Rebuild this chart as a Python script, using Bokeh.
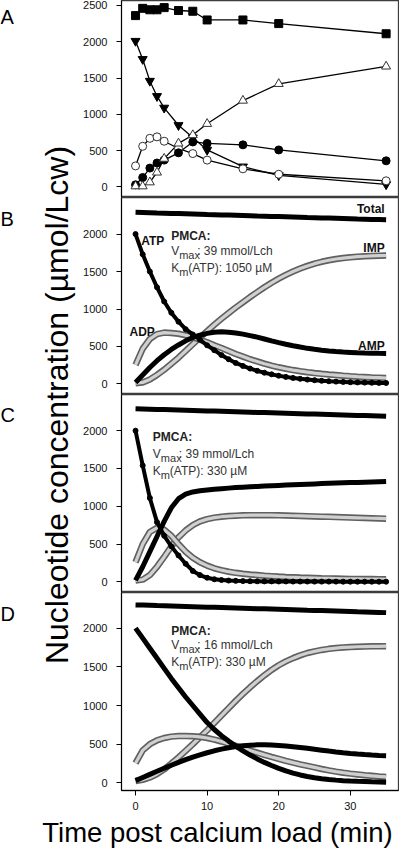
from bokeh.plotting import figure
from bokeh.layouts import row, column
from bokeh.models import Range1d, FixedTicker
from bokeh.core.properties import value
from bokeh.embed import file_html
from bokeh.resources import INLINE

FONT = "Liberation Sans"

# ---------------- Panel A: measured data ----------------
time_a = [0, 1, 2, 3, 4, 6, 8, 10, 15, 20, 35]
a_total = [2360, 2460, 2440, 2440, 2470, 2430, 2420, 2300, 2300, 2250, 2110]
a_atp = [2010, 1760, 1460, 1250, 1090, 850, 680, 510, 280, 160, 35]
a_adp = [290, 560, 670, 690, 630, 530, 460, 370, 250, 175, 85]
a_amp = [30, 130, 260, 330, 370, 470, 620, 600, 580, 510, 360]
a_imp = [10, 10, 65, 200, 390, 600, 715, 870, 1190, 1420, 1660]

# ---------------- Panels B-D: simulations ----------------
time_sim = list(range(36))

b_total = [2290, 2287, 2284, 2281, 2279, 2276, 2273, 2270, 2267, 2264, 2261, 2259, 2256, 2253, 2250, 2247,
           2244, 2241, 2239, 2236, 2233, 2230, 2227, 2224, 2221, 2219, 2216, 2213, 2210, 2207, 2204, 2201,
           2199, 2196, 2193, 2190]
b_atp = [2000, 1730, 1500, 1290, 1100, 950, 830, 730, 660, 590, 515, 450, 385, 330, 280, 240, 205, 175,
         150, 128, 110, 94, 80, 68, 58, 50, 42, 36, 31, 27, 23, 20, 18, 16, 14, 13]
b_adp = [255, 470, 600, 665, 685, 680, 670, 650, 625, 590, 555, 515, 480, 440, 400, 365, 330, 300, 270,
         245, 222, 203, 185, 170, 157, 145, 135, 126, 118, 110, 103, 97, 92, 87, 83, 79]
b_amp = [20, 120, 220, 310, 390, 460, 520, 575, 620, 650, 675, 690, 695, 690, 680, 665, 645, 625, 600,
         575, 552, 530, 510, 492, 475, 462, 450, 440, 432, 425, 420, 415, 412, 410, 408, 407]
b_imp = [10, 20, 60, 120, 190, 270, 350, 440, 530, 620, 705, 790, 870, 945, 1020, 1090, 1160, 1225, 1290,
         1350, 1405, 1455, 1500, 1540, 1575, 1605, 1630, 1650, 1667, 1680, 1690, 1698, 1704, 1708, 1711, 1714]

c_total = [2290, 2287, 2284, 2281, 2279, 2276, 2273, 2270, 2267, 2264, 2261, 2259, 2256, 2253, 2250, 2247,
           2244, 2241, 2239, 2236, 2233, 2230, 2227, 2224, 2221, 2219, 2216, 2213, 2210, 2207, 2204, 2201,
           2199, 2196, 2193, 2190]
c_atp = [2000, 1540, 1110, 790, 610, 470, 350, 240, 145, 90, 55, 35, 25, 18, 14, 11, 9, 8, 7, 7, 6, 6, 5,
         5, 5, 4, 4, 4, 4, 3, 3, 3, 3, 3, 3, 3]
c_adp = [260, 500, 660, 715, 690, 610, 500, 400, 320, 260, 215, 180, 155, 135, 120, 108, 98, 90, 82, 76,
         70, 65, 61, 57, 54, 51, 48, 46, 44, 42, 40, 39, 38, 37, 36, 35]
c_amp = [20, 200, 400, 600, 800, 980, 1100, 1160, 1190, 1205, 1215, 1224, 1232, 1240, 1247, 1253, 1258,
         1263, 1268, 1272, 1276, 1280, 1284, 1288, 1292, 1296, 1300, 1304, 1307, 1310, 1313, 1316, 1319,
         1322, 1325, 1328]
c_imp = [20, 30, 90, 200, 330, 470, 590, 680, 750, 800, 830, 850, 862, 870, 876, 880, 882, 883, 883, 882,
         880, 878, 875, 872, 869, 866, 863, 860, 857, 854, 851, 848, 845, 842, 839, 836]

d_total = [2300, 2297, 2294, 2291, 2289, 2286, 2283, 2280, 2277, 2274, 2271, 2269, 2266, 2263, 2260, 2257,
           2254, 2251, 2249, 2246, 2243, 2240, 2237, 2234, 2231, 2229, 2226, 2223, 2220, 2217, 2214, 2211,
           2209, 2206, 2203, 2200]
d_atp = [2000, 1870, 1740, 1610, 1480, 1350, 1230, 1110, 1000, 890, 780, 690, 610, 540, 475, 415, 360, 310,
         265, 225, 188, 155, 127, 103, 83, 67, 54, 44, 36, 29, 24, 20, 17, 14, 12, 10]
d_adp = [255, 420, 500, 550, 580, 598, 605, 606, 603, 595, 580, 560, 535, 507, 478, 448, 418, 390, 362,
         335, 310, 285, 262, 240, 220, 200, 180, 162, 146, 132, 120, 110, 100, 92, 84, 77]
d_amp = [30, 70, 110, 150, 190, 228, 265, 300, 333, 363, 390, 415, 437, 455, 470, 481, 488, 492, 492, 489,
         484, 477, 468, 458, 447, 435, 423, 411, 400, 390, 381, 373, 366, 360, 355, 352]
d_imp = [25, 40, 70, 115, 175, 250, 330, 415, 500, 590, 680, 775, 870, 965, 1060, 1150, 1235, 1315, 1390,
         1460, 1520, 1570, 1612, 1648, 1678, 1700, 1718, 1732, 1742, 1750, 1755, 1759, 1762, 1764, 1765, 1766]

ticks_a = [0, 500, 1000, 1500, 2000, 2500]
ticks_bcd = [0, 500, 1000, 1500, 2000]
ticks_x = [0, 10, 20, 30]

X_RANGE = (-1.96, 36.73)
PANEL_H = [197, 197, 198, 198]
BOTTOM_BORDER = 24


def make_panel(yr, frame_h, yticks, bottom=False):
    p = figure(frame_width=277, frame_height=frame_h,
               x_range=Range1d(*X_RANGE), y_range=Range1d(*yr),
               output_backend="svg", toolbar_location=None,
               min_border_left=39, min_border_right=1, min_border_top=0,
               min_border_bottom=(BOTTOM_BORDER if bottom else 0))
    p.grid.visible = False
    p.outline_line_color = "#3c3c3c"
    p.outline_line_width = 1.3
    ya = p.yaxis[0]
    ya.ticker = FixedTicker(ticks=yticks)
    ya.major_label_text_font = FONT
    ya.major_label_text_font_size = "11px"
    ya.major_label_text_color = "#111111"
    ya.major_tick_out = 5
    ya.major_tick_in = 0
    ya.minor_tick_out = 0
    ya.minor_tick_in = 0
    ya.major_label_standoff = 9
    ya.axis_line_color = "black"
    xa = p.xaxis[0]
    if bottom:
        xa.ticker = FixedTicker(ticks=ticks_x)
        xa.major_label_text_font = FONT
        xa.major_label_text_font_size = "11px"
        xa.major_label_text_color = "#111111"
        xa.major_tick_out = 5
        xa.major_tick_in = 0
        xa.minor_tick_out = 0
        xa.minor_tick_in = 0
        xa.major_label_standoff = 6
        xa.axis_line_color = "black"
    else:
        xa.visible = False
    return p


def band(p, x, y, outline_col="#606060", inner_col="#d0d0d0"):
    p.line(x, y, line_color=outline_col, line_width=6.5)
    p.line(x, y, line_color=inner_col, line_width=3.2)


def solid(p, x, y, w=5):
    p.line(x, y, line_color="black", line_width=w)


def txt(p, x, y, s, size="12px", bold=False, color="#111111", align="left", xo=0, yo=0):
    p.text(x=[x], y=[y], text=[s], text_font=value(FONT), text_font_size=size,
           text_font_style=("bold" if bold else "normal"), text_color=color,
           text_align=align, text_baseline="middle", x_offset=xo, y_offset=yo)


def pmca(p, x, y_title, y_v, y_k, vmax, km):
    txt(p, x, y_title, "PMCA:", bold=True, color="#222222")
    txt(p, x, y_v, "V", color="#333333")
    txt(p, x, y_v, "max", size="11px", color="#333333", xo=8, yo=4)
    txt(p, x, y_v, ": " + vmax, color="#333333", xo=26)
    txt(p, x, y_k, "K", color="#333333")
    txt(p, x, y_k, "m", size="11px", color="#333333", xo=8, yo=4)
    txt(p, x, y_k, "(ATP): " + km, color="#333333", xo=17)


def label_strip_axis(ax, text, size, standoff):
    ax.ticker = FixedTicker(ticks=[])
    ax.axis_line_color = None
    ax.major_tick_out = 0
    ax.major_tick_in = 0
    ax.minor_tick_out = 0
    ax.minor_tick_in = 0
    ax.axis_label = text
    ax.axis_label_text_font = FONT
    ax.axis_label_text_font_size = size
    ax.axis_label_text_font_style = "normal"
    ax.axis_label_text_color = "black"
    ax.axis_label_standoff = standoff


# ---------- Panel A ----------
pa = make_panel((-145, 2568), PANEL_H[0], ticks_a)
for ys in (a_total, a_atp, a_adp, a_amp, a_imp):
    pa.line(time_a, ys, line_color="black", line_width=1.3)
pa.scatter(time_a, a_total, marker="square", size=8, fill_color="black", line_color="black")
pa.scatter(time_a, a_atp, marker="inverted_triangle", size=9, fill_color="black", line_color="black")
pa.scatter(time_a, a_adp, marker="circle", size=8, fill_color="white", line_color="#333333")
pa.scatter(time_a, a_amp, marker="circle", size=8, fill_color="black", line_color="black")
pa.scatter(time_a, a_imp, marker="triangle", size=9, fill_color="white", line_color="#333333")

# ---------- Panel B ----------
pb = make_panel((-141, 2488), PANEL_H[1], ticks_bcd)
solid(pb, time_sim, b_total)
band(pb, time_sim, b_imp)
band(pb, time_sim, b_adp)
solid(pb, time_sim, b_amp)
solid(pb, time_sim, b_atp, w=4)
pb.scatter(time_sim, b_atp, marker="circle", size=5, fill_color="black", line_color="black")
txt(pb, 34.8, 2330, "Total", bold=True, align="right")
txt(pb, 0.8, 1904, "ATP", bold=True)
txt(pb, 34.8, 1815, "IMP", bold=True, align="right")
txt(pb, -0.84, 694, "ADP", bold=True)
txt(pb, 34.8, 509, "AMP", bold=True, align="right")
pmca(pb, 4.98, 1979, 1772, 1552, "39 mmol/Lch", "1050 \u00b5M")

# ---------- Panel C ----------
pc = make_panel((-140, 2478), PANEL_H[2], ticks_bcd)
solid(pc, time_sim, c_total)
band(pc, time_sim, c_imp)
band(pc, time_sim, c_adp)
solid(pc, time_sim, c_amp)
solid(pc, time_sim, c_atp, w=4)
pc.scatter(time_sim, c_atp, marker="circle", size=5, fill_color="black", line_color="black")
pmca(pc, 2.42, 1913, 1696, 1470, "39 mmol/Lch", "330 \u00b5M")

# ---------- Panel D ----------
pd_ = make_panel((-98, 2460), PANEL_H[3], ticks_bcd, bottom=True)
solid(pd_, time_sim, d_total)
band(pd_, time_sim, d_imp)
band(pd_, time_sim, d_adp)
solid(pd_, time_sim, d_amp)
solid(pd_, time_sim, d_atp, w=5)
pmca(pd_, 5.0, 1967, 1779, 1562, "16 mmol/Lch", "330 \u00b5M")

panels_h = sum(PANEL_H) + BOTTOM_BORDER

# ---------- Panel letters strip ----------
lt = figure(frame_width=20, frame_height=panels_h, x_range=Range1d(0, 20), y_range=Range1d(panels_h, 0),
            output_backend="svg", toolbar_location=None, min_border=0)
lt.axis.visible = False
lt.grid.visible = False
lt.outline_line_color = None
letters = ["A", "B", "C", "D"]
letter_y = [16, 218, 414, 613]
lt.text(x=[0] * 4, y=letter_y, text=letters, text_font=value(FONT), text_font_size="20px",
        text_color="black", text_align="left", text_baseline="alphabetic")

# ---------- Shared y-axis label strip ----------
yl = figure(frame_width=4, frame_height=panels_h - 5, x_range=Range1d(0, 1), y_range=Range1d(0, 1),
            output_backend="svg", toolbar_location=None,
            min_border_left=56, min_border_right=0, min_border_top=0, min_border_bottom=5)
yl.xaxis.visible = False
yl.grid.visible = False
yl.outline_line_color = None
label_strip_axis(yl.yaxis[0], "Nucleotide concentration (\u00b5mol/Lcw)", "32px", 2)

# ---------- Bottom strip: shared x label ----------
bf = figure(frame_width=100, frame_height=1, x_range=Range1d(0, 1), y_range=Range1d(0, 1),
            output_backend="svg", toolbar_location=None,
            min_border_left=167, min_border_right=130, min_border_top=0, min_border_bottom=32)
bf.yaxis.visible = False
bf.grid.visible = False
bf.outline_line_color = None
label_strip_axis(bf.xaxis[0], "Time post calcium load (min)", "27.5px", 1)

panels = column(pa, pb, pc, pd_, spacing=0)
layout = column(row(lt, yl, panels, spacing=0), bf, spacing=0)

open("out.html", "w").write(file_html(layout, INLINE))
